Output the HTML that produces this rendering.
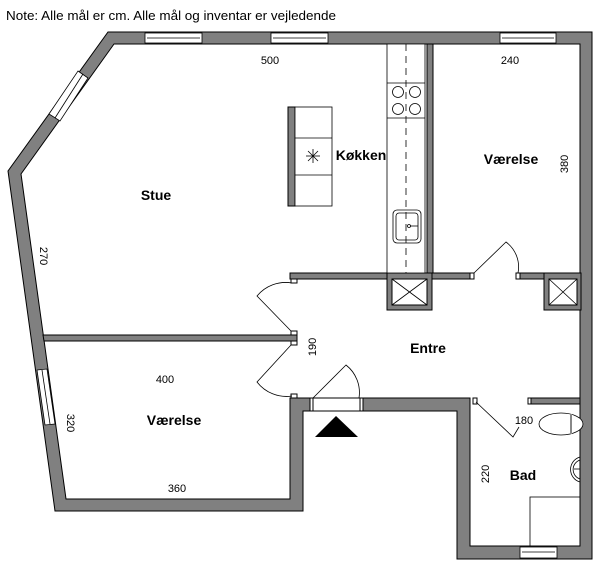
<!DOCTYPE html>
<html><head><meta charset="utf-8"><style>
html,body{margin:0;padding:0;background:#fff;}
svg{display:block;}
text{font-family:"Liberation Sans",sans-serif;}
</style></head><body>
<svg width="600" height="566" viewBox="0 0 600 566" xmlns="http://www.w3.org/2000/svg">
<text x="6" y="20" font-size="12.5" textLength="330" lengthAdjust="spacingAndGlyphs">Note: Alle mål er cm. Alle mål og inventar er vejledende</text>
<!-- outer ring -->
<path fill-rule="evenodd" fill="#808080" stroke="#000" stroke-width="1"
 d="M108,32 L592,32 L592,559 L457,559 L457,411 L303,411 L303,511 L55,511 L8,171 Z
    M114,44 L21,174 L66,499 L290,499 L290,398 L470,398 L470,546 L580,546 L580,44 Z"/>
<!-- interior walls -->
<g fill="#808080" stroke="#000" stroke-width="1">
<polygon points="43,335 297,335 297,341 44,341"/>
<rect x="290" y="273" width="180" height="6"/>
<rect x="520" y="273" width="60" height="6"/>
<rect x="427" y="44" width="6" height="229"/>
<rect x="529" y="398" width="51" height="6"/>
<rect x="387" y="273" width="45" height="37"/>
<rect x="544" y="273" width="37" height="37"/>
<rect x="288" y="107" width="7" height="99"/>
</g>
<!-- shafts -->
<g fill="#fff" stroke="#000" stroke-width="1">
<rect x="392" y="279" width="35" height="26"/>
<rect x="549" y="279" width="28" height="26"/>
</g>
<g stroke="#000" stroke-width="0.8">
<line x1="392" y1="279" x2="427" y2="305"/><line x1="427" y1="279" x2="392" y2="305"/>
<line x1="549" y1="279" x2="577" y2="305"/><line x1="577" y1="279" x2="549" y2="305"/>
</g>
<!-- door openings (white) -->
<g fill="#fff" stroke="none">
<rect x="470.5" y="272" width="49" height="8"/>
<rect x="289" y="283" width="10" height="51"/>
<rect x="289" y="342" width="10" height="55"/>
<rect x="310" y="398.5" width="53" height="12"/>
<rect x="477" y="397" width="52" height="8"/>
</g>
<!-- jambs -->
<g fill="#fff" stroke="#000" stroke-width="1">
<rect x="470" y="273" width="4" height="6"/>
<rect x="516" y="273" width="4" height="6"/>
<rect x="291" y="279" width="6" height="4"/>
<rect x="291" y="331" width="6" height="4"/>
<rect x="291" y="341" width="6" height="4"/>
<rect x="291" y="394" width="6" height="4"/>
<rect x="310" y="398" width="3" height="13"/>
<rect x="360" y="398" width="3" height="13"/>
<rect x="473" y="398" width="4" height="6"/>
<rect x="528" y="398" width="3" height="6"/>
</g>
<line x1="313" y1="398" x2="360" y2="398" stroke="#000"/>
<line x1="313" y1="411" x2="360" y2="411" stroke="#000"/>
<!-- door leaves & arcs -->
<g fill="none" stroke="#000" stroke-width="0.8">
<path d="M474,273 L506,242 A31,31 0 0 1 518,273"/>
<path d="M292,283 A37,37 0 0 0 257,296 L291,331"/>
<path d="M292,396 A37,37 0 0 1 257,382 L291,345"/>
<path d="M313,398 L346,365 A35,35 0 0 1 359,398"/>
<path d="M476,402 L513,437 L519,427"/>
</g>
<!-- windows -->
<g fill="#fff" stroke="#000" stroke-width="0.8">
<rect x="145" y="33" width="57" height="10"/><line x1="147" y1="38" x2="200" y2="38"/>
<rect x="271" y="33" width="57" height="10"/><line x1="273" y1="38" x2="326" y2="38"/>
<rect x="500" y="33" width="56" height="10"/><line x1="502" y1="38" x2="554" y2="38"/>
<rect x="520" y="547" width="37" height="11"/><line x1="522" y1="552" x2="555" y2="552"/>
<polygon points="78,71 88,78 60,121 49,114"/><line x1="83" y1="74" x2="55" y2="118"/>
<polygon points="37,370 47,369 55,424 45,425"/><line x1="42" y1="370" x2="50" y2="424"/>
</g>
<!-- kitchen counter -->
<g fill="none" stroke="#000" stroke-width="0.8">
<rect x="387" y="44" width="38" height="229" fill="#fff"/>
<line x1="387" y1="83" x2="425" y2="83"/><line x1="387" y1="118" x2="425" y2="118"/>
<line x1="406" y1="44" x2="406" y2="273" stroke-dasharray="7,5"/>
<circle cx="398" cy="92" r="5.5"/><circle cx="415" cy="92" r="5.5"/>
<circle cx="398" cy="109" r="5.5"/><circle cx="415" cy="109" r="5.5"/>
<rect x="393" y="210" width="28" height="33" rx="4"/>
<rect x="396" y="213" width="22" height="27" rx="3"/>
<circle cx="409" cy="226" r="1.5"/><line x1="410" y1="226" x2="418" y2="226"/>
<rect x="295" y="107" width="37" height="99" fill="#fff"/>
<line x1="295" y1="138" x2="332" y2="138"/><line x1="295" y1="175" x2="332" y2="175"/>
<line x1="306" y1="156" x2="320" y2="156"/><line x1="313" y1="149" x2="313" y2="163"/>
<line x1="308" y1="151" x2="318" y2="161"/><line x1="318" y1="151" x2="308" y2="161"/>
<!-- bath -->
<ellipse cx="561" cy="424" rx="22" ry="11" fill="#fff"/>
<line x1="571" y1="414" x2="571" y2="434" stroke="#888" stroke-width="2"/>
<path d="M580,457 A13,13 0 0 0 580,482" /><path d="M580,460 A10,10 0 0 0 580,479"/>
<line x1="574" y1="469" x2="580" y2="469"/>
<rect x="530" y="497" width="50" height="49"/>
</g>
<polygon points="315,437 358,437 336,416" fill="#000"/>
<!-- labels -->
<g font-weight="bold" font-size="14" text-anchor="middle">
<text x="156" y="200">Stue</text>
<text x="361" y="160">Køkken</text>
<text x="511" y="164">Værelse</text>
<text x="428" y="353">Entre</text>
<text x="174" y="425">Værelse</text>
<text x="523" y="480">Bad</text>
</g>
<g font-size="11" text-anchor="middle">
<text x="270" y="64">500</text>
<text x="510" y="64">240</text>
<text x="165" y="383">400</text>
<text x="177" y="492">360</text>
<text x="524" y="424">180</text>
<text transform="translate(568,164) rotate(-90)">380</text>
<text transform="translate(40,256) rotate(90)">270</text>
<text transform="translate(67,423) rotate(90)">320</text>
<text transform="translate(316,347) rotate(-90)">190</text>
<text transform="translate(489,474) rotate(-90)">220</text>
</g>
</svg>
</body></html>
